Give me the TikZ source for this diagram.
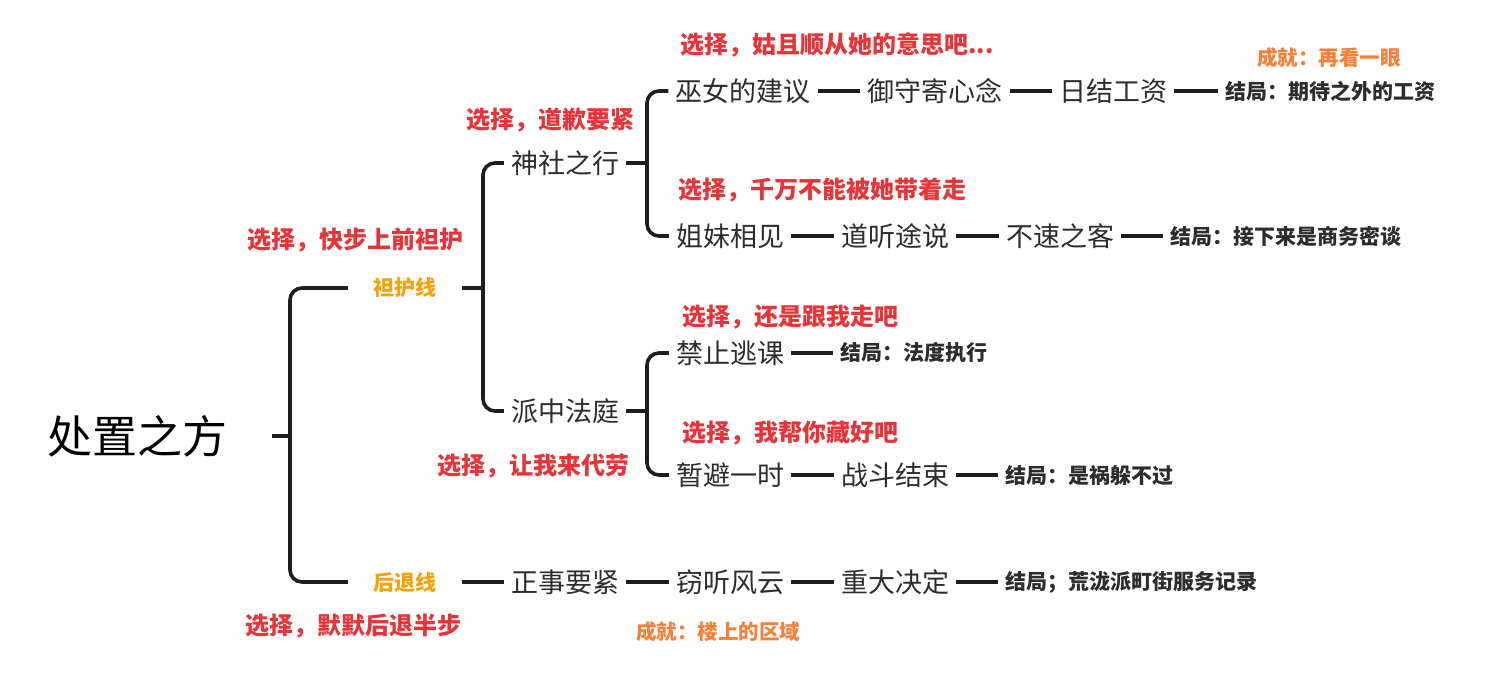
\documentclass[tikz,border=0pt]{standalone}
\usepackage{fontspec}
\setmainfont{Noto Sans CJK SC}
\definecolor{lc}{RGB}{30,30,30}
\definecolor{tc}{RGB}{45,45,45}
\definecolor{cred}{RGB}{232,52,56}
\definecolor{cach}{RGB}{245,128,58}
\definecolor{cline}{RGB}{245,162,10}
\tikzset{
  conn/.style={line width=3.6pt, draw=lc, rounded corners=12pt},
  reg/.style={font=\fontsize{27}{30}\selectfont, text=tc, inner xsep=7pt, inner ysep=2pt},
  endn/.style={font=\bfseries\fontsize{21}{24}\selectfont, text=tc, inner xsep=7pt, inner ysep=2pt},
  choice/.style={font=\bfseries\fontsize{24}{28}\selectfont, text=cred, inner sep=0pt, anchor=west},
  ach/.style={font=\bfseries\fontsize{20.5}{24}\selectfont, text=cach, inner sep=0pt, anchor=west},
  linen/.style={font=\bfseries\fontsize{21}{24}\selectfont, text=cline, inner xsep=25.5pt, inner ysep=2pt},
  titlen/.style={font=\fontsize{45}{50}\selectfont, text=black, inner xsep=45pt, inner ysep=2pt},
}
\begin{document}
\begin{tikzpicture}[x=1pt,y=-1pt]
\useasboundingbox[fill=white] (0,0) rectangle (1509,698);

% coordinates of bracket spines
\coordinate (j0) at (290,436);
\coordinate (j1) at (483,288);
\coordinate (j2) at (647,163);
\coordinate (j3) at (647,411);

% nodes
\node[titlen] (title) at (137,436) {处置之方};
\node[linen] (hu) at (405,288) {袒护线};
\node[linen] (tui) at (405,582) {后退线};

\node[reg] (shen) at (565,163) {神社之行};
\node[reg] (pai) at (565,411) {派中法庭};

\node[reg] (wu) at (743,91) {巫女的建议};
\node[reg] (yu) at (935,91) {御守寄心念};
\node[reg] (ri) at (1113,91) {日结工资};
\node[endn] (e1) at (1330,91) {结局：期待之外的工资};

\node[reg] (jie) at (730,236) {姐妹相见};
\node[reg] (dao) at (895,236) {道听途说};
\node[reg] (bu) at (1060,236) {不速之客};
\node[endn] (e2) at (1286,236) {结局：接下来是商务密谈};

\node[reg] (jin) at (730,353) {禁止逃课};
\node[endn] (e3) at (913.5,353) {结局：法度执行};

\node[reg] (zan) at (730,475) {暂避一时};
\node[reg] (zhan) at (895,475) {战斗结束};
\node[endn] (e4) at (1089,475) {结局：是祸躲不过};

\node[reg] (zheng) at (565,582) {正事要紧};
\node[reg] (qie) at (730,582) {窃听风云};
\node[reg] (zhong) at (895,582) {重大决定};
\node[endn] (e5) at (1131.5,582) {结局；荒泷派町街服务记录};

% choice labels
\node[choice] (c1) at (680,45) {选择，姑且顺从她的意思吧...};
\node[choice] (c2) at (678,190) {选择，千万不能被她带着走};
\node[choice] (c3) at (466,120) {选择，道歉要紧};
\node[choice] (c4) at (247,240) {选择，快步上前袒护};
\node[choice] (c5) at (682,317) {选择，还是跟我走吧};
\node[choice] (c6) at (682,433) {选择，我帮你藏好吧};
\node[choice] (c7) at (437,466) {选择，让我来代劳};
\node[choice] (c8) at (245,626) {选择，默默后退半步};

% achievements
\node[ach] (a1) at (1257,58) {成就：再看一眼};
\node[ach] (a2) at (636,632) {成就：楼上的区域};

% connectors
\draw[conn] (title.east) -- (j0);
\draw[conn] (hu.west) -| (j0) |- (tui.west);

\draw[conn] (hu.east) -- (j1);
\draw[conn] (shen.west) -| (j1) |- (pai.west);

\draw[conn] (shen.east) -- (j2);
\draw[conn] (wu.west) -| (j2) |- (jie.west);

\draw[conn] (pai.east) -- (j3);
\draw[conn] (jin.west) -| (j3) |- (zan.west);

\draw[conn] (wu.east) -- (yu.west);
\draw[conn] (yu.east) -- (ri.west);
\draw[conn] (ri.east) -- (e1.west);

\draw[conn] (jie.east) -- (dao.west);
\draw[conn] (dao.east) -- (bu.west);
\draw[conn] (bu.east) -- (e2.west);

\draw[conn] (jin.east) -- (e3.west);

\draw[conn] (zan.east) -- (zhan.west);
\draw[conn] (zhan.east) -- (e4.west);

\draw[conn] (tui.east) -- (zheng.west);
\draw[conn] (zheng.east) -- (qie.west);
\draw[conn] (qie.east) -- (zhong.west);
\draw[conn] (zhong.east) -- (e5.west);
\end{tikzpicture}
\end{document}
